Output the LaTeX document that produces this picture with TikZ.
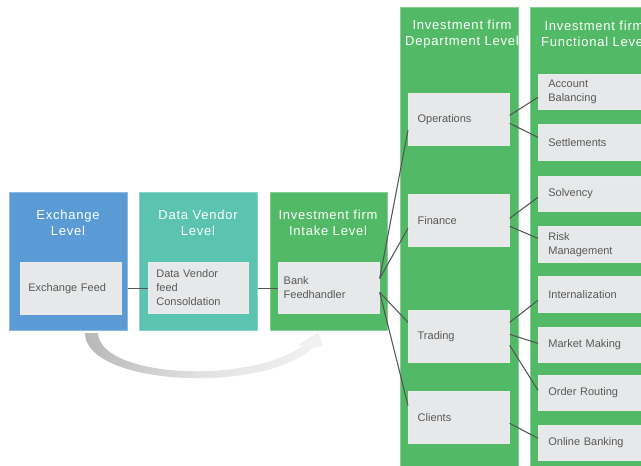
\documentclass[tikz,border=0pt]{standalone}
\usepackage{fontspec}
\setmainfont{Liberation Sans}
\usetikzlibrary{calc}
\definecolor{exblue}{HTML}{5B9BD5}
\definecolor{dvteal}{HTML}{5BC4B1}
\definecolor{fgreen}{HTML}{52BA67}
\definecolor{boxgray}{HTML}{E7E8E9}
\definecolor{txtgray}{HTML}{595959}
\definecolor{linegray}{HTML}{555555}
\begin{document}
\begin{tikzpicture}[x=0.75pt,y=-0.75pt,
  levelbox/.style={draw=#1!70!white, fill=#1, line width=0.6pt, inner sep=0pt, anchor=north west},
  gbox/.style={draw=white!92!black, fill=boxgray, line width=0.5pt, text=txtgray, anchor=north west,
     font=\fontsize{8.25}{10.5}\selectfont, align=left, inner ysep=0pt, inner xsep=6pt,
     minimum width=75.75pt, text width=63.75pt},
  fbox/.style={gbox, minimum width=82.5pt, inner xsep=7.5pt, text width=67.5pt},
  ttl/.style={text=white, align=center, font=\fontsize{9.75}{12}\selectfont\addfontfeatures{LetterSpace=6}},
  conn/.style={draw=linegray, line width=0.8pt}]
\useasboundingbox (0,0) rectangle (641,466);
\clip (0,0) rectangle (641,466);

% level boxes
\node[levelbox=exblue, minimum width=88.5pt, minimum height=103.5pt] (exlevel) at (9,192) {};
\node[levelbox=dvteal, minimum width=88.5pt, minimum height=103.5pt] (dvlevel) at (139,192) {};
\node[levelbox=fgreen, minimum width=87.75pt, minimum height=103.5pt] (inlevel) at (270,192) {};
\node[levelbox=fgreen, minimum width=88.5pt, minimum height=352.5pt] (deplevel) at (400,7) {};
\node[levelbox=fgreen, minimum width=97.5pt, minimum height=352.5pt] (funlevel) at (530,7) {};

% titles
\node[ttl] (exttl) at (68,223) {Exchange\\Level};
\node[ttl] (dvttl) at (198,223) {Data Vendor\\Level};
\node[ttl] (inttl) at (328,223) {Investment firm\\Intake Level};
\node[ttl] (depttl) at (462,34) {Investment firm\\Department Level};
\node[ttl] (funttl) at (594,34) {Investment firm\\Functional Level};

% curved arrow
\shade[left color=black!28, right color=black!5, middle color=black!11]
  (85,333) -- (98,333) .. controls (100,378) and (250,385) .. (304,345)
  -- (297,346) -- (318,332) -- (323,346) -- (313,348)
  .. controls (260,395) and (85,385) .. (85,333) -- cycle;

% inner boxes
\node[gbox, minimum height=39pt] (exfeed) at (20,262) {Exchange Feed};
\node[gbox, minimum height=38.25pt, minimum width=75pt, text width=63pt] (dvfeed) at (148,262) {Data Vendor\\feed\\Consoldation};
\node[gbox, minimum height=38.25pt, inner xsep=4pt, text width=67.75pt] (bank) at (278,262) {Bank\\Feedhandler};

\node[gbox, minimum height=39pt, inner xsep=7pt, text width=61.75pt] (ops) at (408,93) {Operations};
\node[gbox, minimum height=39pt, inner xsep=7pt, text width=61.75pt] (fin) at (408,194) {Finance};
\node[gbox, minimum height=39pt, inner xsep=7pt, text width=61.75pt] (trad) at (408,310) {Trading};
\node[gbox, minimum height=39pt, inner xsep=7pt, text width=61.75pt] (cli) at (408,391) {Clients};

\node[fbox, minimum height=26.25pt] (acc) at (538,74) {Account\\Balancing};
\node[fbox, minimum height=27pt] (sett) at (538,124) {Settlements};
\node[fbox, minimum height=26.25pt] (solv) at (538,176) {Solvency};
\node[fbox, minimum height=27pt] (risk) at (538,226) {Risk\\Management};
\node[fbox, minimum height=27pt] (intern) at (538,276) {Internalization};
\node[fbox, minimum height=26.25pt] (mm) at (538,327) {Market Making};
\node[fbox, minimum height=26.25pt] (ordr) at (538,375) {Order Routing};
\node[fbox, minimum height=26.25pt] (ob) at (538,425) {Online Banking};

% connectors
\draw[conn] (exlevel.east |- exfeed.east) -- (dvfeed.west |- exfeed.east);
\draw[conn] (dvlevel.east |- exfeed.east) -- (bank.west |- exfeed.east);

\draw[conn] ([yshift=7pt]bank.east) -- ([yshift=-8.25pt]ops.west);
\draw[conn] ([yshift=7pt]bank.east) -- ([yshift=-6pt]fin.west);
\draw[conn] ([yshift=-3.4pt]bank.east) -- ([yshift=10.5pt]trad.west);
\draw[conn] ([yshift=-3.4pt]bank.east) -- ([yshift=9pt]cli.west);

\draw[conn] ([yshift=3pt]ops.east) -- ([yshift=-4.1pt]acc.west);
\draw[conn] ([yshift=-3pt]ops.east) -- ([yshift=3.75pt]sett.west);
\draw[conn] ([yshift=1.5pt]fin.east) -- ([yshift=-2.6pt]solv.west);
\draw[conn] ([yshift=-4.5pt]fin.east) -- ([yshift=4.5pt]risk.west);
\draw[conn] ([yshift=10.5pt]trad.east) -- ([yshift=-4.5pt]intern.west);
\draw[conn] ([yshift=1.5pt]trad.east) -- ([yshift=1.1pt]mm.west);
\draw[conn] ([yshift=-6.75pt]trad.east) -- ([yshift=1.9pt]ordr.west);
\draw[conn] ([yshift=-4.5pt]cli.east) -- ([yshift=3.4pt]ob.west);
\end{tikzpicture}
\end{document}
